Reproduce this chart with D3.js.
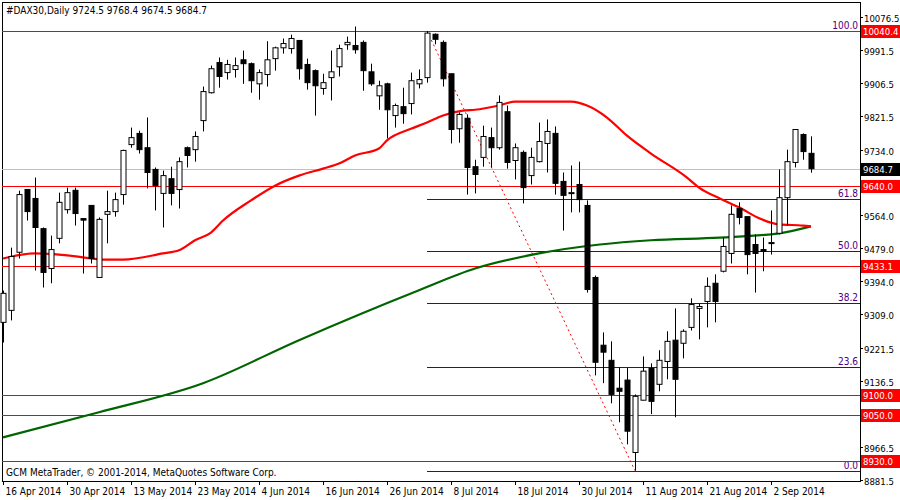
<!DOCTYPE html>
<html><head><meta charset="utf-8">
<script src="https://cdn.jsdelivr.net/npm/d3@7"></script>
<style>body{margin:0;background:#fff}svg{display:block}text{font-family:"DejaVu Sans Condensed","Liberation Sans",sans-serif;font-size:10px}.ax{font-size:9.5px}</style>
</head><body><svg id="c" width="900" height="500"></svg>
<script>
const opens=[9288,9319,9469,9631,9608,9530,9427,9505,9579,9629,9556,9590,9404,9567,9574,9618,9747,9776,9739,9683,9621,9659,9631,9739,9734,9809,
9881,9959,9933,9941,9966,9956,9904,9928,9969,9997,9995,10016,9954,9938,9892,9920,9948,10005,10003,10011,9935,9873,9904,9822,9845,9853,9904,
9920,10032,10011,9930,9788,9815,9690,9714,9765,9739,9832,9706,9727,9667,9703,9750,9776,9652,9623,9644,9590,9404,9229,9190,9118,9139,
8952,9087,9169,9128,9187,9242,9234,9275,9324,9342,9389,9420,9466,9582,9561,9489,9476,9494,9518,9610,9701,9773,9724.5];
const highs=[9370,9481,9628,9631,9662,9533,9512,9623,9636,9636,9556,9590,9559,9628,9623,9734,9791,9783,9817,9688,9680,9690,9714,9742,9781,9897,
9951,9972,9966,9972,9990,9959,9941,10014,10000,10021,10031,10016,9969,9941,9930,9990,10005,10026,10052,10016,9956,9912,9907,9853,9894,9933,9941,
10040.4,10034,10016,9930,9830,9825,9708,9796,9791,9874,9848,9750,9732,9739,9804,9812,9794,9675,9693,9703,9603,9409,9262,9239,9172,9170,
9102,9200,9182,9216,9265,9324,9270,9350,9337,9404,9412,9507,9590,9598,9561,9515,9507,9577,9683,9734,9786,9776,9768.4];
const lows=[9236,9293,9453,9551,9422,9378,9389,9492,9569,9538,9414,9440,9404,9492,9561,9592,9739,9724,9634,9577,9533,9590,9582,9688,9703,9781,
9879,9894,9915,9920,9904,9881,9863,9897,9938,9982,9982,9915,9889,9822,9876,9861,9923,9992,9982,9886,9899,9837,9763,9791,9801,9825,9892,
9907,10006,9897,9750,9752,9618,9621,9690,9688,9734,9685,9657,9595,9644,9701,9675,9618,9525,9572,9572,9365,9151,9131,9079,9030,8973,
8905,9087,9051,9110,9141,9043,9195,9267,9244,9275,9288,9417,9440,9541,9412,9365,9420,9463,9515,9538,9688,9708,9674.5];
const closes=[9363,9458,9618,9574,9533,9417,9476,9598,9623,9569,9552,9453,9554,9574,9605,9732,9765,9734,9675,9641,9667,9621,9703,9719,9768,9884,
9943,9923,9954,9951,9956,9912,9933,9966,9997,10008,10021,9943,9907,9899,9907,9935,9995,10011,9992,9938,9904,9899,9837,9848,9827,9912,9915,
10035,10019,9917,9786,9825,9688,9670,9768,9739,9856,9701,9739,9636,9714,9755,9781,9647,9616,9623,9605,9373,9185,9211,9102,9110,9007,
9097,9162,9084,9190,9239,9141,9265,9334,9329,9381,9342,9484,9567,9559,9463,9466,9471,9494,9610,9703,9786,9729,9684.7];
const ma50=[[0,9453],[4,9466],[8,9461],[13,9450],[15,9450],[20,9466],[22,9474],[24,9500],[26,9520],[27.5,9551],[31,9603],[34,9641],[37,9667],[40,9685],[42,9698],[44,9719],[47,9737],[48,9758],[51,9788],[53,9804],[55,9822],[57.5,9835],[59,9837],[62,9848],[64,9858],[69,9858],[71,9858],[73,9848],[75.5,9817],[78,9770],[81,9724],[85.5,9662],[87,9636],[89.6,9608],[92,9585],[94.6,9556],[97,9541],[100,9538],[101,9536]];
const ma200=[[0,8991],[12,9056],[25,9131],[37,9242],[52,9371],[59,9427],[67,9466],[74.6,9489],[81,9500],[89.6,9507],[97,9518],[101,9536]];
const dateLabels=["16 Apr 2014","30 Apr 2014","13 May 2014","23 May 2014","4 Jun 2014","16 Jun 2014","26 Jun 2014","8 Jul 2014","18 Jul 2014","30 Jul 2014","11 Aug 2014","21 Aug 2014","2 Sep 2014"];
const priceTicks=[10076.5,9991.5,9906.5,9821.5,9734.0,9649.0,9564.0,9479.0,9394.0,9309.0,9221.5,9136.5,9051.5,8966.5,8881.5];
const levels=[10040.4,9640.0,9433.1,9100.0,9050.0,8930.0];
const fibHigh=10040.4, fibLow=8905, fibStart=53, fibEnd=79;
const fibPcts=[100.0,61.8,50.0,38.2,23.6,0.0];
const lastPrice=9684.7;

const svg=d3.select("#c");
const L=2,R=860,T=2,B=481;
const y=d3.scaleLinear().domain([8930,10040.4]).range([461,31]);
const x=d3.scaleLinear().domain([0,101]).range([3,811]);
svg.append("rect").attr("x",L+.5).attr("y",T+.5).attr("width",R-L).attr("height",B-T).attr("fill","#fff").attr("stroke","#000");
const g=svg.append("g");
g.append("line").attr("x1",L).attr("x2",R).attr("y1",Math.round(y(lastPrice))+.5).attr("y2",Math.round(y(lastPrice))+.5).attr("stroke","#c0c0c0");
fibPcts.forEach(p=>{const v=fibLow+(fibHigh-fibLow)*p/100;const yy=Math.round(y(v))+.5;
 g.append("line").attr("x1",x(fibStart)).attr("x2",R).attr("y1",yy).attr("y2",yy).attr("stroke","#4b0082");
 g.append("text").attr("x",R-2).attr("y",yy-3).attr("text-anchor","end").attr("fill","#4b0082").text(p.toFixed(1));});
levels.forEach(v=>{const yy=Math.round(y(v))+.5;g.append("line").attr("x1",L).attr("x2",R).attr("y1",yy).attr("y2",yy).attr("stroke","#ff0000");});
g.append("line").attr("x1",x(fibStart)).attr("y1",y(fibHigh)).attr("x2",x(fibEnd)).attr("y2",y(fibLow)).attr("stroke","#ff0000").attr("stroke-dasharray","2,3");
const ln=d3.line().x(d=>x(d[0])).y(d=>y(d[1])).curve(d3.curveMonotoneX);
g.append("path").attr("d",ln(ma200)).attr("fill","none").attr("stroke","#006400").attr("stroke-width",2.2);
g.append("path").attr("d",ln(ma50)).attr("fill","none").attr("stroke","#ff0000").attr("stroke-width",2.2);
opens.forEach((o,i)=>{const c=closes[i],cx=Math.round(x(i))+.5;
 g.append("line").attr("x1",cx).attr("x2",cx).attr("y1",y(highs[i])).attr("y2",y(lows[i])).attr("stroke","#000");
 const t=y(Math.max(o,c)),b=y(Math.min(o,c));
 g.append("rect").attr("x",cx-2.5).attr("y",t).attr("width",5).attr("height",Math.max(1,b-t)).attr("fill",c>=o?"#fff":"#000").attr("stroke","#000");});
priceTicks.forEach(v=>{const yy=Math.round(y(v))+.5;
 svg.append("line").attr("x1",R).attr("x2",R+3).attr("y1",yy).attr("y2",yy).attr("stroke","#000");
 svg.append("text").attr("class","ax").attr("x",R+4).attr("y",yy+4).text(v.toFixed(1));});
const tag=(v,bg)=>{const yy=Math.round(y(v));svg.append("rect").attr("x",R+1).attr("y",yy-6).attr("width",39).attr("height",13).attr("fill",bg);
 svg.append("text").attr("class","ax").attr("x",R+3).attr("y",yy+4).attr("fill","#fff").text(v.toFixed(1));};
levels.forEach(v=>tag(v,"#ff0000"));
tag(lastPrice,"#000");
dateLabels.forEach((d,k)=>{const xx=Math.round(x(k*8))+.5;
 svg.append("line").attr("x1",xx).attr("x2",xx).attr("y1",B).attr("y2",B+4).attr("stroke","#000");
 svg.append("text").attr("x",xx+2).attr("y",B+14).text(d);});
svg.append("text").attr("x",6).attr("y",14).text("#DAX30,Daily  9724.5 9768.4 9674.5 9684.7");
svg.append("text").attr("x",6).attr("y",476).text("GCM MetaTrader, © 2001-2014, MetaQuotes Software Corp.");
</script></body></html>
